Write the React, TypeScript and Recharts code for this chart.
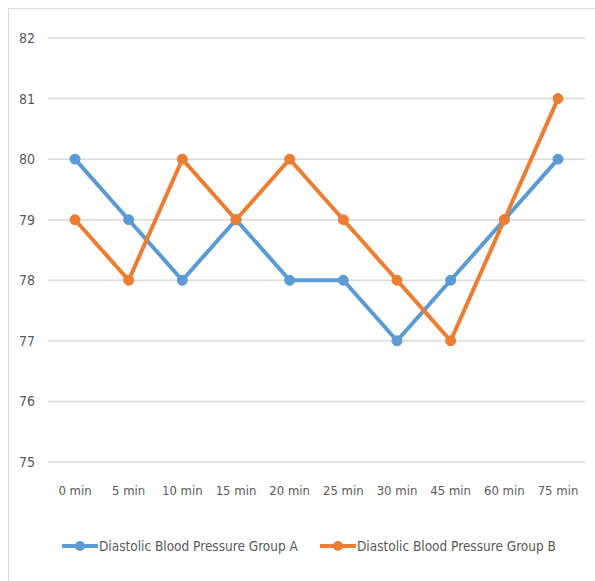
import React from 'react';
import { LineChart, Line, XAxis, YAxis, CartesianGrid, Legend } from 'recharts';

const categories = ['0 min', '5 min', '10 min', '15 min', '20 min', '25 min', '30 min', '45 min', '60 min', '75 min'];
const groupA = [80, 79, 78, 79, 78, 78, 77, 78, 79, 80];
const groupB = [79, 78, 80, 79, 80, 79, 78, 77, 79, 81];
const yTicks = [75, 76, 77, 78, 79, 80, 81, 82];

const BLUE = '#5B9BD5';
const ORANGE = '#ED7D31';
const FONT = '"DejaVu Sans Condensed", "Liberation Sans Narrow", "DejaVu Sans", sans-serif';

const data = categories.map((name, i) => ({ name, a: groupA[i], b: groupB[i] }));

const legendItems = [
  { label: 'Diastolic Blood Pressure Group A', color: BLUE, x: 62 },
  { label: 'Diastolic Blood Pressure Group B', color: ORANGE, x: 320 },
];

const renderLegend = () => (
  <div style={{ position: 'relative', width: 595, height: 24 }}>
    {legendItems.map((item) => (
      <div
        key={item.label}
        style={{ position: 'absolute', left: item.x, top: 0, display: 'flex', alignItems: 'center', height: 24 }}
      >
        <svg width={36} height={14}>
          <line x1={1} y1={7} x2={35} y2={7} stroke={item.color} strokeWidth={4} strokeLinecap="round" />
          <circle cx={18} cy={7} r={5} fill={item.color} />
        </svg>
        <span style={{ fontFamily: FONT, fontSize: 13.5, color: '#595959', marginLeft: 1 }}>{item.label}</span>
      </div>
    ))}
  </div>
);

const App: React.FC = () => {
  return (
    <div style={{ position: 'absolute', left: 0, top: 0, width: 595, height: 581, overflow: 'hidden', background: '#fff' }}>
      <div style={{ position: 'absolute', left: 8, top: 8, width: 620, height: 620, border: '1px solid #d9d9d9' }} />
      <div style={{ position: 'absolute', left: 0, top: 0 }}>
        <LineChart width={595} height={581} data={data} margin={{ top: 38, right: 10, left: 0, bottom: 89 }}>
          <CartesianGrid vertical={false} stroke="#d9d9d9" strokeWidth={1.5} />
          <XAxis
            dataKey="name"
            axisLine={false}
            tickLine={false}
            tickSize={0}
            tickMargin={24}
            height={30}
            interval={0}
            padding={{ left: 27, right: 27 }}
            tick={{ fill: '#595959', fontSize: 13, fontFamily: FONT }}
          />
          <YAxis
            domain={[75, 82]}
            ticks={yTicks}
            axisLine={false}
            tickLine={false}
            tickSize={0}
            tickMargin={13}
            width={48}
            tick={{ fill: '#595959', fontSize: 14, fontFamily: FONT }}
          />
          <Legend
            verticalAlign="middle"
            align="center"
            layout="horizontal"
            content={renderLegend}
            wrapperStyle={{ position: 'absolute', top: 534, left: 0, width: 595 }}
          />
          <Line
            type="linear"
            dataKey="a"
            stroke={BLUE}
            strokeWidth={4}
            dot={{ r: 5, fill: BLUE, stroke: BLUE, strokeWidth: 1 }}
            isAnimationActive={false}
          />
          <Line
            type="linear"
            dataKey="b"
            stroke={ORANGE}
            strokeWidth={4}
            dot={{ r: 5, fill: ORANGE, stroke: ORANGE, strokeWidth: 1 }}
            isAnimationActive={false}
          />
        </LineChart>
      </div>
    </div>
  );
};

export default App;
